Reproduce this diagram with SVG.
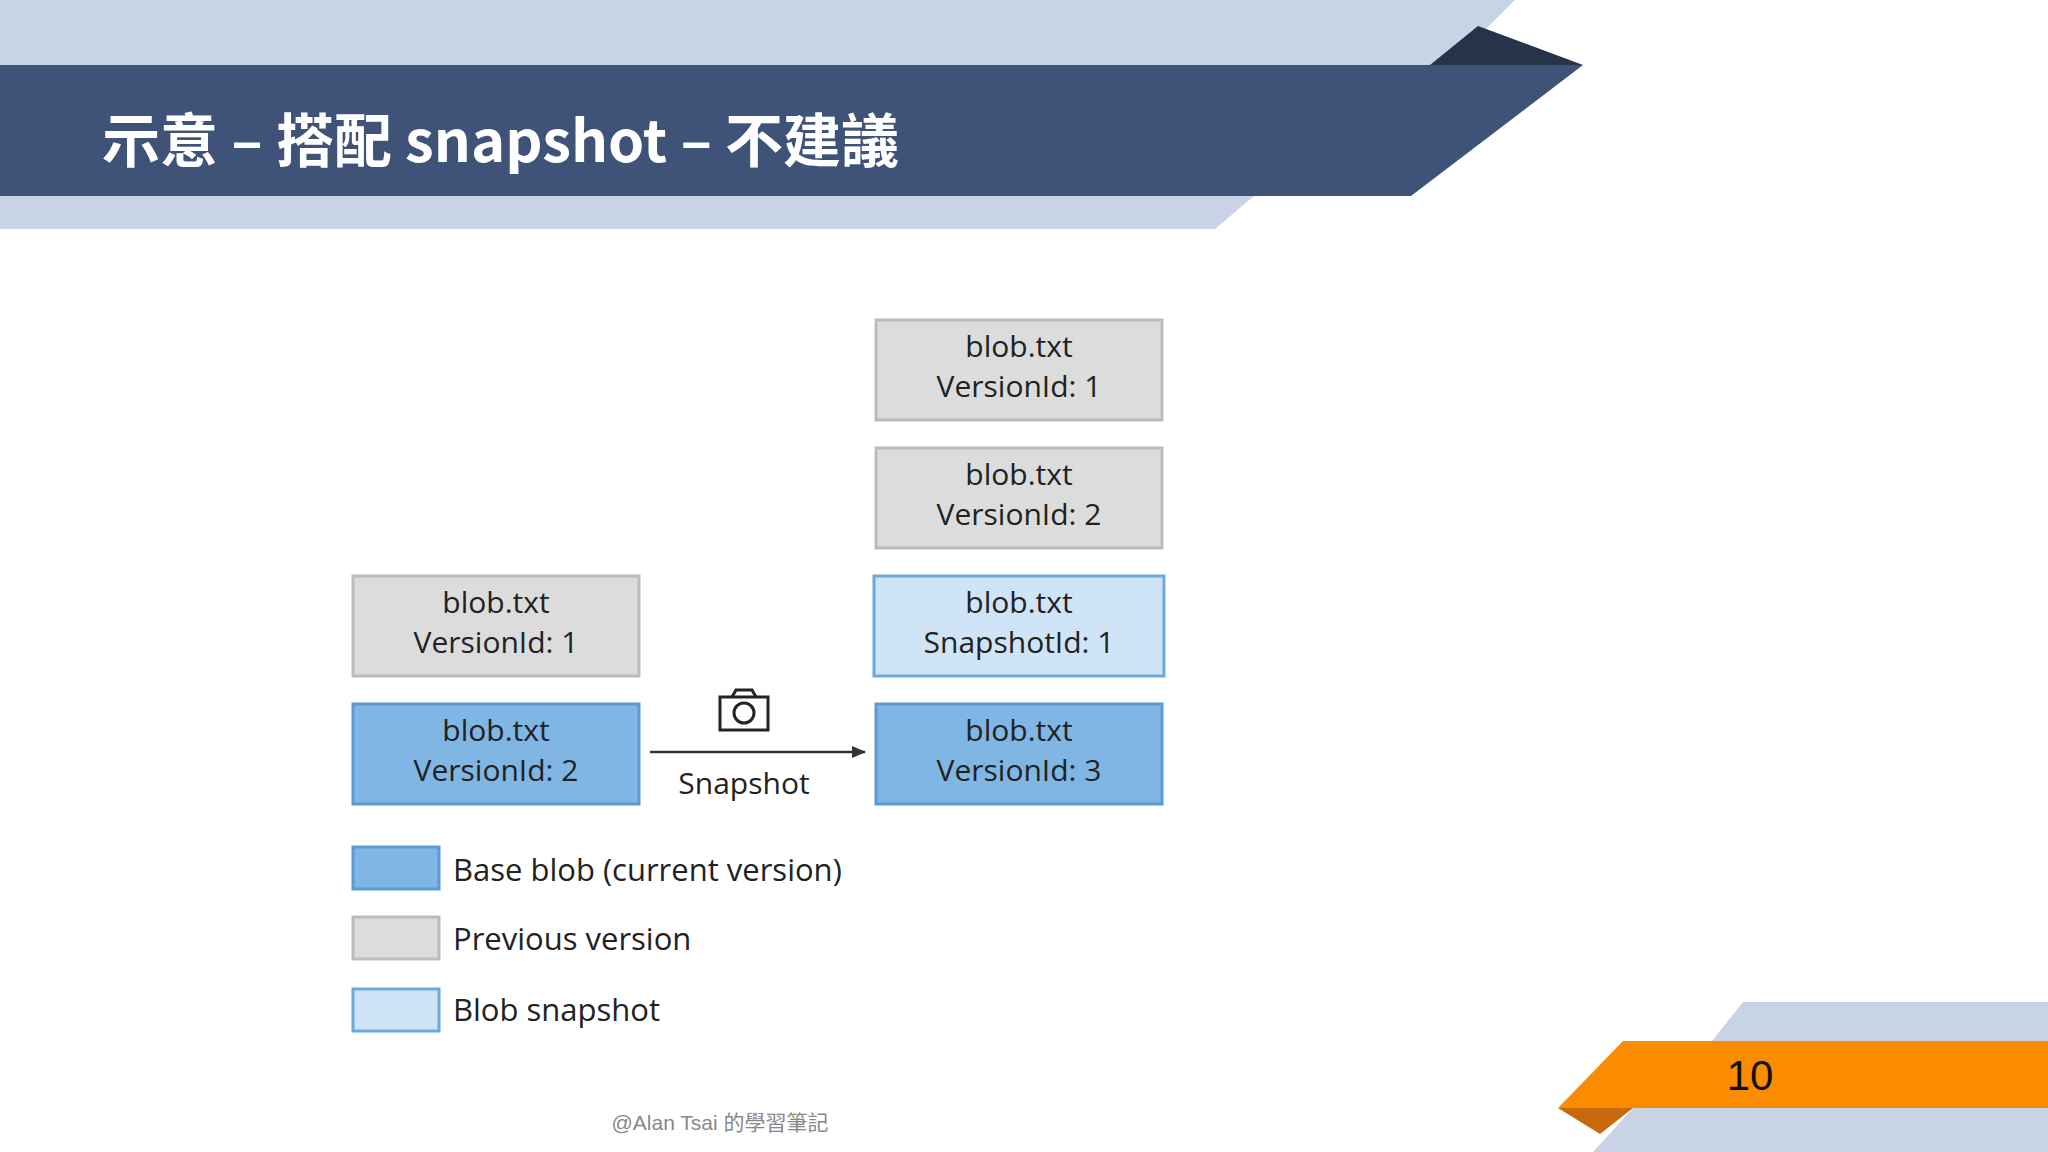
<svg xmlns="http://www.w3.org/2000/svg" width="2048" height="1152" viewBox="0 0 2048 1152">
<style>
.t{font-family:"Open Sans","Noto Sans",sans-serif;font-size:30px;fill:#222;text-anchor:middle}
.l{font-family:"Open Sans","Noto Sans",sans-serif;font-size:31px;fill:#222}
.g{fill:#dcdcdc;stroke:#bcbcbc;stroke-width:3}
.b{fill:#80b6e3;stroke:#5a9bd6;stroke-width:3}
.s{fill:#d0e4f7;stroke:#6eaadd;stroke-width:3}
</style>
<defs><marker id="ah" markerWidth="14" markerHeight="14" refX="13" refY="7" orient="auto" markerUnits="userSpaceOnUse"><path d="M0,1 L14,7 L0,13 Z" fill="#333"/></marker></defs>
<rect width="2048" height="1152" fill="#fff"/>
<g id="header">
<polygon points="0,0 1515,0 1450,65 0,65" fill="#c9d3e6"/>
<polygon points="0,196 1254,196 1215,229 0,229" fill="#c9d3e6"/>
<polygon points="0,65 1583,65 1411,196 0,196" fill="#3e5377"/>
<polygon points="1430,65 1478,26 1583,65" fill="#263349"/>
<text x="102" y="162" font-family="'Noto Sans CJK TC','Noto Sans',sans-serif" font-weight="bold" font-size="58" fill="#fff">示意 – 搭配 snapshot – 不建議</text>
</g>
<g id="v1r"><rect class="g" x="876" y="320" width="286" height="100"/><text class="t" x="1019" y="357">blob.txt</text><text class="t" x="1019" y="397">VersionId: 1</text></g>
<g id="v2r"><rect class="g" x="876" y="448" width="286" height="100"/><text class="t" x="1019" y="485">blob.txt</text><text class="t" x="1019" y="525">VersionId: 2</text></g>
<g id="snap"><rect class="s" x="874" y="576" width="290" height="100"/><text class="t" x="1019" y="613">blob.txt</text><text class="t" x="1019" y="653">SnapshotId: 1</text></g>
<g id="v3"><rect class="b" x="876" y="704" width="286" height="100"/><text class="t" x="1019" y="741">blob.txt</text><text class="t" x="1019" y="781">VersionId: 3</text></g>
<g id="v1l"><rect class="g" x="353" y="576" width="286" height="100"/><text class="t" x="496" y="613">blob.txt</text><text class="t" x="496" y="653">VersionId: 1</text></g>
<g id="v2l"><rect class="b" x="353" y="704" width="286" height="100"/><text class="t" x="496" y="741">blob.txt</text><text class="t" x="496" y="781">VersionId: 2</text></g>
<g id="connectors">
<line x1="650" y1="752" x2="865" y2="752" stroke="#333" stroke-width="2.5" marker-end="url(#ah)"/>
<text class="t" x="744" y="794">Snapshot</text>
</g>
<g id="camera" fill="none" stroke="#222" stroke-width="3">
<rect x="720" y="697" width="48" height="33"/>
<path d="M732,697 L736,690 L752,690 L756,697"/>
<circle cx="744" cy="713" r="10"/>
</g>
<g id="legend">
<rect class="b" x="353" y="847" width="86" height="42"/><text class="l" x="453" y="881">Base blob (current version)</text>
<rect class="g" x="353" y="917" width="86" height="42"/><text class="l" x="453" y="950">Previous version</text>
<rect class="s" x="353" y="989" width="86" height="42"/><text class="l" x="453" y="1021">Blob snapshot</text>
</g>
<text x="720" y="1130" text-anchor="middle" font-family="'Liberation Sans','Noto Sans CJK TC',sans-serif" font-size="21" fill="#888">@Alan Tsai 的學習筆記</text>
<g id="footer">
<polygon points="1743,1002 2048,1002 2048,1041 1712,1041" fill="#c9d3e6"/>
<polygon points="1633,1108 2048,1108 2048,1152 1593,1152" fill="#c9d3e6"/>
<polygon points="1623,1041 2048,1041 2048,1108 1558,1108" fill="#fb8c00"/>
<polygon points="1558,1108 1633,1108 1600,1134" fill="#c86a0c"/>
<text x="1750" y="1090" text-anchor="middle" font-family="'Liberation Sans',sans-serif" font-size="42" fill="#111">10</text>
</g>
</svg>
